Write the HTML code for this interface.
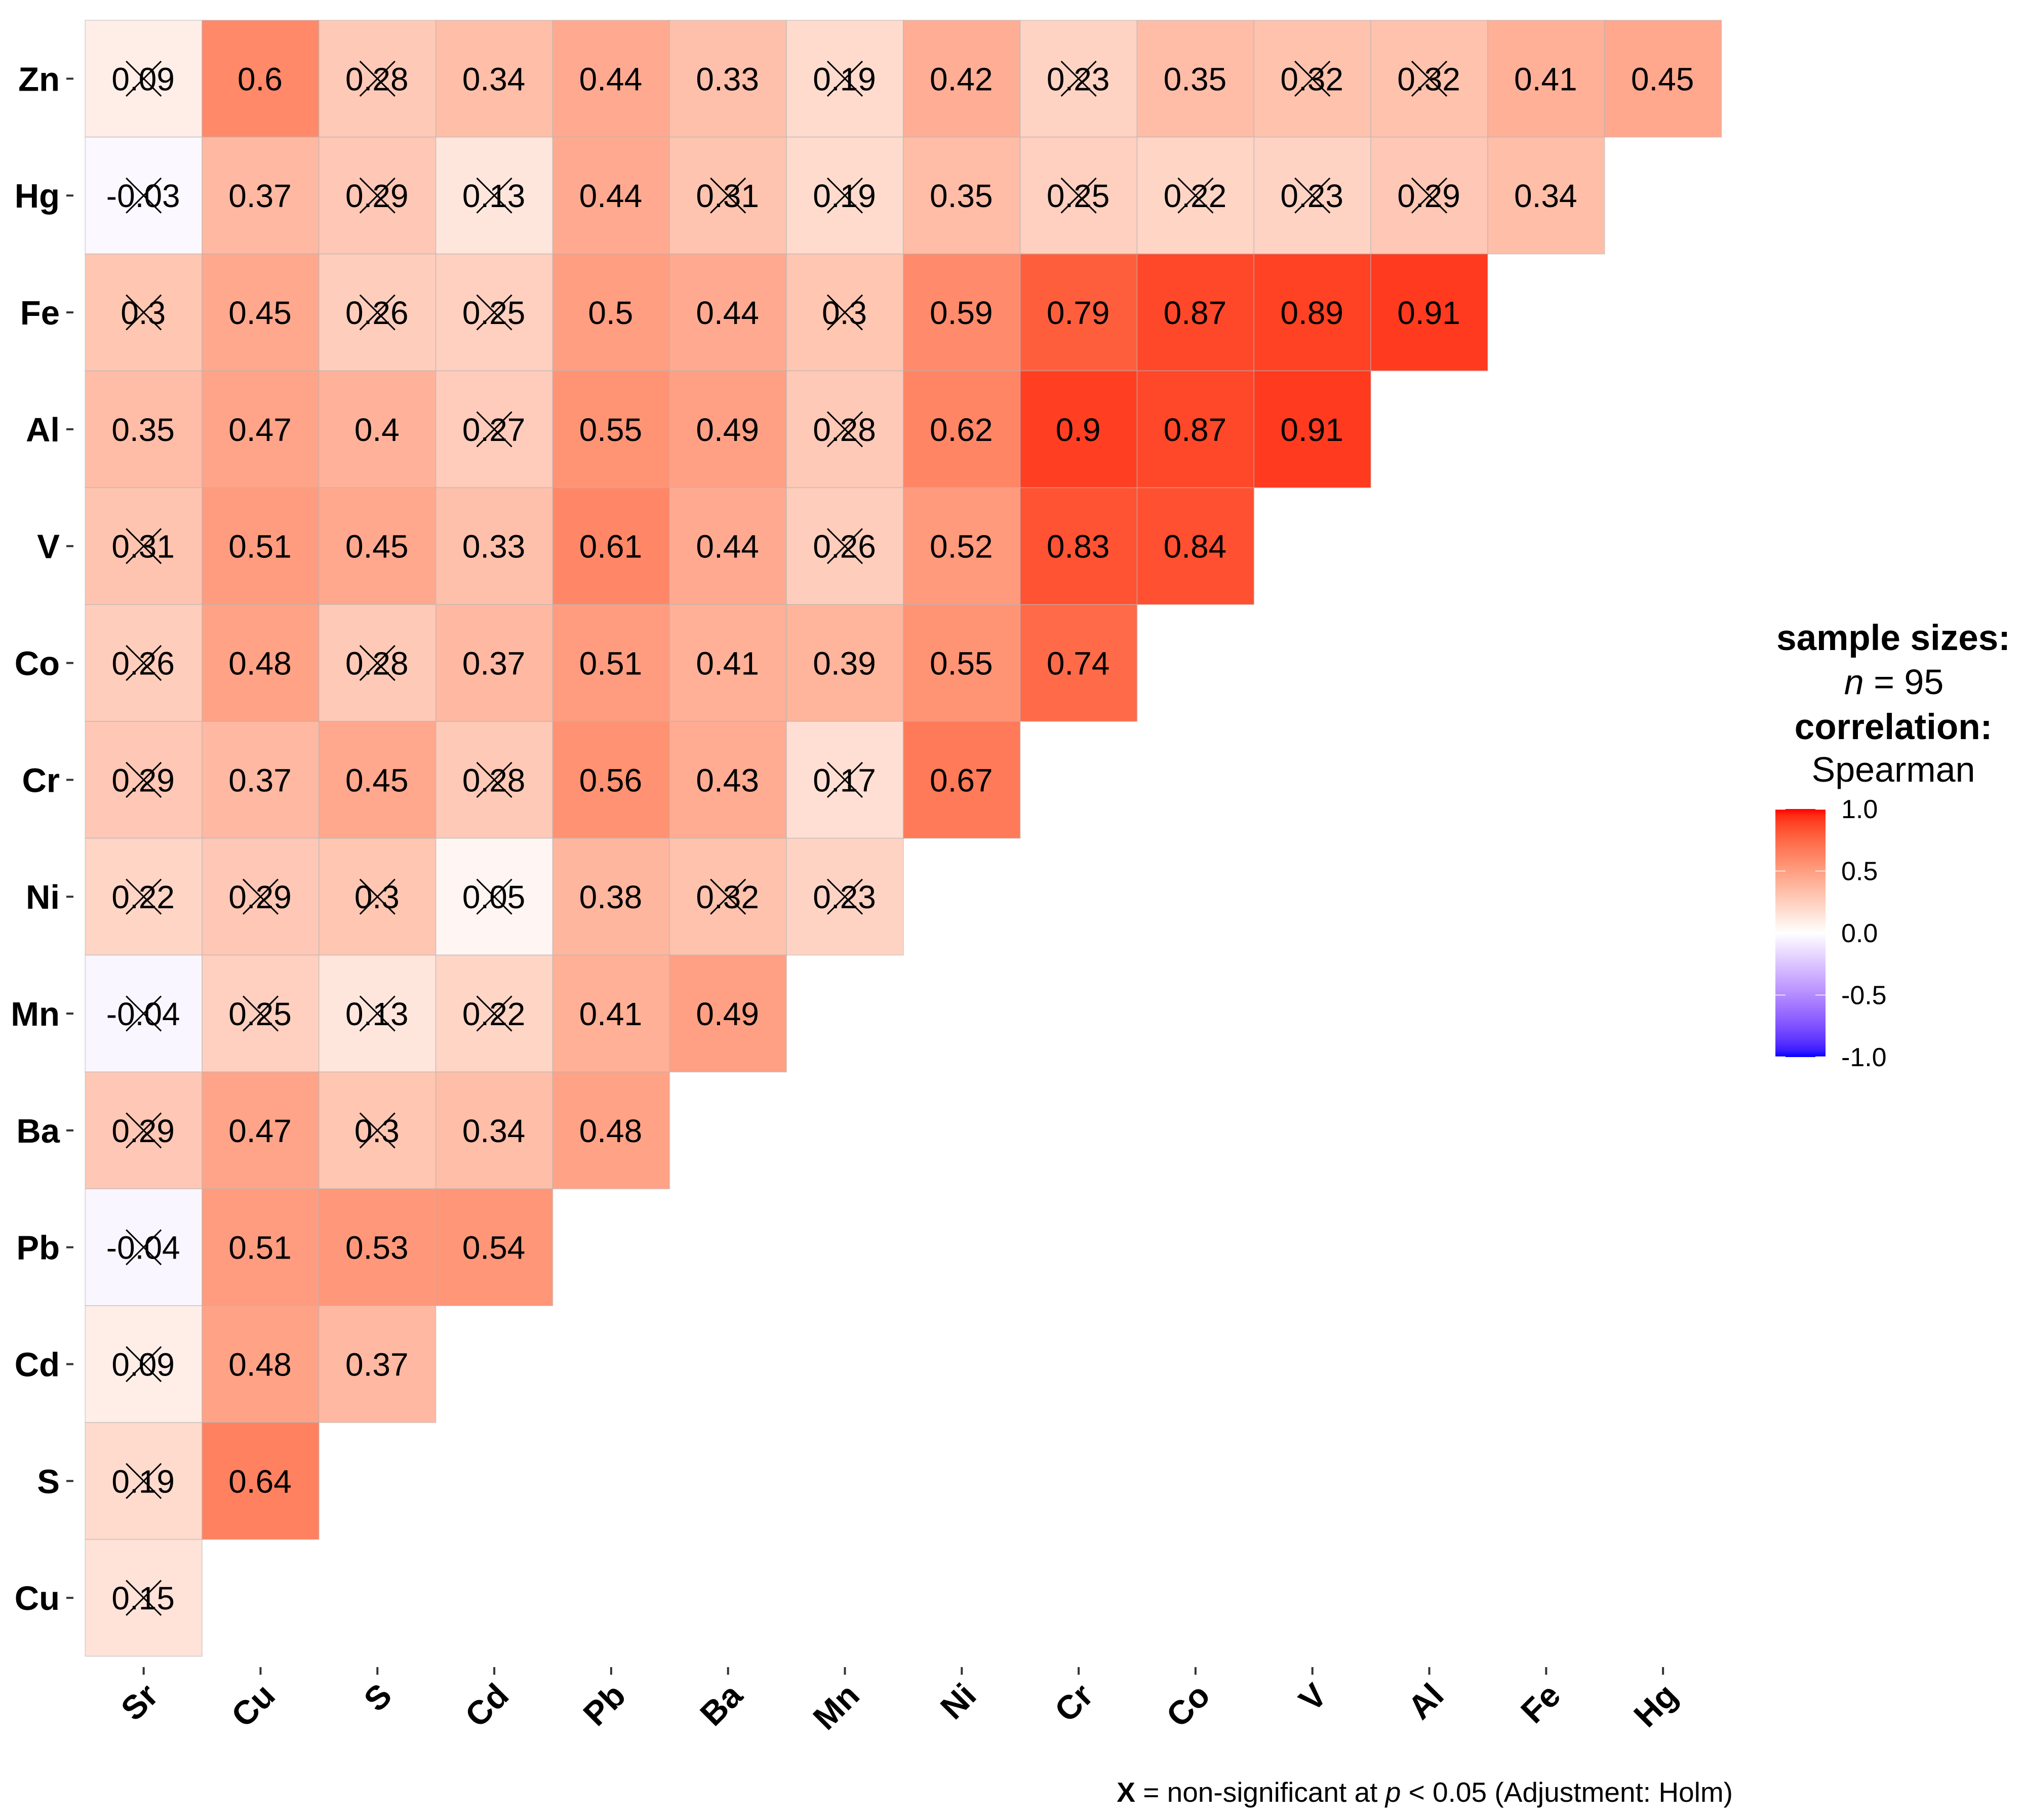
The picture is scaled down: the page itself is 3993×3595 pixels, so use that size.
<!DOCTYPE html>
<html lang="en">
<head>
<meta charset="utf-8">
<title>Spearman correlation matrix</title>
<style>
html,body{margin:0;padding:0;background:#fff;}
svg{display:block;font-family:"Liberation Sans",Arial,sans-serif;}
</style>
</head>
<body>
<svg id="chart" xmlns="http://www.w3.org/2000/svg" width="3993" height="3595" viewBox="0 0 3993 3595">
  <rect x="0" y="0" width="3993" height="3595" fill="#ffffff"/>
  <defs>
    <linearGradient id="legend-gradient" x1="0" y1="0" x2="0" y2="1"></linearGradient>
  </defs>
  <g id="cells"></g>
  <g id="yaxis"></g>
  <g id="xaxis"></g>
  <g text-anchor="middle" fill="#000">
    <text x="3739" y="1284" font-size="71" font-weight="bold">sample sizes:</text>
    <text x="3740" y="1371" font-size="70"><tspan font-style="italic">n</tspan> = 95</text>
    <text x="3739" y="1460" font-size="71" font-weight="bold">correlation:</text>
    <text x="3739" y="1544" font-size="70">Spearman</text>
  </g>
  <rect x="3506" y="1598" width="99" height="490" fill="url(#legend-gradient)"/>
  <g id="legend-ticks"></g>
  <text x="3422" y="3559" text-anchor="end" font-size="55" fill="#000"><tspan font-weight="bold">X</tspan> = non-significant at <tspan font-style="italic">p</tspan> &lt; 0.05 (Adjustment: Holm)</text>
</svg>
<script>
const columnLabels = ["Sr","Cu","S","Cd","Pb","Ba","Mn","Ni","Cr","Co","V","Al","Fe","Hg"];
const rowLabels = ["Zn","Hg","Fe","Al","V","Co","Cr","Ni","Mn","Ba","Pb","Cd","S","Cu"];
const valuesZn = [0.09,0.6,0.28,0.34,0.44,0.33,0.19,0.42,0.23,0.35,0.32,0.32,0.41,0.45];
const valuesHg = [-0.03,0.37,0.29,0.13,0.44,0.31,0.19,0.35,0.25,0.22,0.23,0.29,0.34];
const valuesFe = [0.3,0.45,0.26,0.25,0.5,0.44,0.3,0.59,0.79,0.87,0.89,0.91];
const valuesAl = [0.35,0.47,0.4,0.27,0.55,0.49,0.28,0.62,0.9,0.87,0.91];
const valuesV = [0.31,0.51,0.45,0.33,0.61,0.44,0.26,0.52,0.83,0.84];
const valuesCo = [0.26,0.48,0.28,0.37,0.51,0.41,0.39,0.55,0.74];
const valuesCr = [0.29,0.37,0.45,0.28,0.56,0.43,0.17,0.67];
const valuesNi = [0.22,0.29,0.3,0.05,0.38,0.32,0.23];
const valuesMn = [-0.04,0.25,0.13,0.22,0.41,0.49];
const valuesBa = [0.29,0.47,0.3,0.34,0.48];
const valuesPb = [-0.04,0.51,0.53,0.54];
const valuesCd = [0.09,0.48,0.37];
const valuesS = [0.19,0.64];
const valuesCu = [0.15];
const nonSigZn = [1,0,1,0,0,0,1,0,1,0,1,1,0,0];
const nonSigHg = [1,0,1,1,0,1,1,0,1,1,1,1,0];
const nonSigFe = [1,0,1,1,0,0,1,0,0,0,0,0];
const nonSigAl = [0,0,0,1,0,0,1,0,0,0,0];
const nonSigV = [1,0,0,0,0,0,1,0,0,0];
const nonSigCo = [1,0,1,0,0,0,0,0,0];
const nonSigCr = [1,0,0,1,0,0,1,0];
const nonSigNi = [1,1,1,1,0,1,1];
const nonSigMn = [1,1,1,1,0,0];
const nonSigBa = [1,0,1,0,0];
const nonSigPb = [1,0,0,0];
const nonSigCd = [1,0,0];
const nonSigS = [1,0];
const nonSigCu = [1];
const legendTicks = [1.0,0.5,0.0,-0.5,-1.0];
const legendTickLabels = ["1.0","0.5","0.0","-0.5","-1.0"];

const allValues = [valuesZn,valuesHg,valuesFe,valuesAl,valuesV,valuesCo,valuesCr,valuesNi,valuesMn,valuesBa,valuesPb,valuesCd,valuesS,valuesCu];
const allNonSig = [nonSigZn,nonSigHg,nonSigFe,nonSigAl,nonSigV,nonSigCo,nonSigCr,nonSigNi,nonSigMn,nonSigBa,nonSigPb,nonSigCd,nonSigS,nonSigCu];

const SVG_NS = "http://www.w3.org/2000/svg";
const GRID_LEFT = 168.3, GRID_TOP = 40, CELL_W = 230.8, CELL_H = 230.83;
function xBand(i){ return GRID_LEFT + i * CELL_W; }
function yBand(j){ return GRID_TOP + j * CELL_H; }
function xCenter(i){ return xBand(i) + CELL_W / 2; }
function yCenter(j){ return yBand(j) + CELL_H / 2; }
function legendY(v){ return 1843 - v * 245; }

function labToHex(L,a,b){
  const fy=(L+16)/116, fx=fy+a/500, fz=fy-b/200;
  const f=t=>{const c=t*t*t; return c>0.008856?c:(t-16/116)/7.787;};
  const X=0.95047*f(fx), Y=f(fy), Z=1.08883*f(fz);
  const lin=[3.2406*X-1.5372*Y-0.4986*Z,-0.9689*X+1.8758*Y+0.0415*Z,0.0557*X-0.204*Y+1.057*Z];
  return "#"+lin.map(c=>{
    c=Math.max(0,Math.min(1,c));
    c=c<=0.0031308?12.92*c:1.055*Math.pow(c,1/2.4)-0.055;
    return Math.round(c*255).toString(16).padStart(2,"0");
  }).join("");
}
function colorScale(v){
  const t=Math.min(1,Math.abs(v));
  const end=v>=0?[53.24,80.09,67.2]:[32.3,79.19,-107.86];
  return labToHex(100+(end[0]-100)*t,end[1]*t,end[2]*t);
}
function make(tag,attrs,parent){
  const el=document.createElementNS(SVG_NS,tag);
  for(const k in attrs){ el.setAttribute(k,attrs[k]); }
  parent.appendChild(el);
  return el;
}

const cellsG=document.getElementById("cells");
allValues.forEach((row,j)=>{
  row.forEach((v,i)=>{
    const rect=make("rect",{x:xBand(i),y:yBand(j),width:CELL_W,height:CELL_H,fill:colorScale(v),stroke:"#b4b4b4","stroke-opacity":0.45,"stroke-width":2},cellsG);
    
    
  });
});
allValues.forEach((row,j)=>{
  row.forEach((v,i)=>{
    const txt=make("text",{x:xCenter(i)-1,y:yCenter(j)+23,"text-anchor":"middle","font-size":64,fill:"#000"},cellsG);
    txt.textContent=String(v);
    
    
    if(allNonSig[j][i]){
      const cx=xCenter(i), cy=yCenter(j), h=34.5;
      const cross=make("path",{d:"M"+(cx-h)+" "+(cy-h)+"L"+(cx+h)+" "+(cy+h)+"M"+(cx-h)+" "+(cy+h)+"L"+(cx+h)+" "+(cy-h),stroke:"#000","stroke-width":3,fill:"none"},cellsG);
      
      
    }
  });
});

const yG=document.getElementById("yaxis");
rowLabels.forEach((lab,j)=>{
  const tick=make("line",{x1:131,x2:145,y1:yCenter(j),y2:yCenter(j),stroke:"#333","stroke-width":4},yG);
  
  
  const t=make("text",{x:118,y:yCenter(j)+24,"text-anchor":"end","font-size":67,"font-weight":"bold",fill:"#000"},yG);
  t.textContent=lab;
  
  
});

const xG=document.getElementById("xaxis");
columnLabels.forEach((lab,i)=>{
  const tick=make("line",{x1:xCenter(i),x2:xCenter(i),y1:3293,y2:3308,stroke:"#333","stroke-width":4},xG);
  
  
  const ax=xCenter(i)+16, ay=3337;
  const t=make("text",{x:ax,y:ay,dy:"0.35em","text-anchor":"end","font-size":66,"font-weight":"bold",fill:"#000",transform:"rotate(-45 "+ax+" "+ay+")"},xG);
  t.textContent=lab;
  
  
});

const grad=document.getElementById("legend-gradient");
for(let k=0;k<=40;k++){
  const v=1-k/20;
  make("stop",{offset:(k/40),"stop-color":colorScale(v)},grad);
}
const ltG=document.getElementById("legend-ticks");
legendTicks.forEach((v,k)=>{
  const y=Math.max(1598.5,Math.min(2087.5,legendY(v)));
  const left=make("line",{x1:3506,x2:3526,y1:y,y2:y,stroke:"#fff","stroke-width":1.5},ltG);
  
  
  const right=make("line",{x1:3585,x2:3605,y1:y,y2:y,stroke:"#fff","stroke-width":1.5},ltG);
  
  
  const t=make("text",{x:3636,y:legendY(v)+18,"font-size":52,fill:"#000"},ltG);
  t.textContent=legendTickLabels[k];
  
  
});
</script>
</body>
</html>
